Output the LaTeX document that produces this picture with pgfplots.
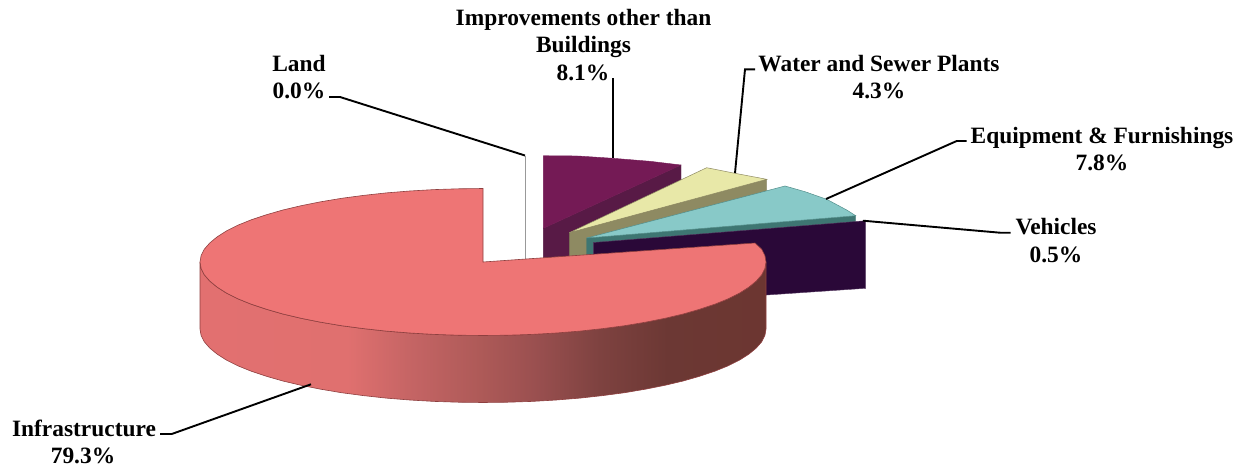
\documentclass[border=0pt]{standalone}
\usepackage{fontspec}
\setmainfont{Liberation Serif}
\usepackage{pgfplots}
\pgfplotsset{compat=1.18}

\definecolor{infraTop}{HTML}{EE7575}
\definecolor{infraEdge}{HTML}{8E3F3F}
\definecolor{improveTop}{HTML}{741A55}
\definecolor{improveSide}{HTML}{581A46}
\definecolor{waterTop}{HTML}{E8E8A8}
\definecolor{waterSide}{HTML}{8E8A62}
\definecolor{equipTop}{HTML}{88C9C8}
\definecolor{equipSide}{HTML}{3E7672}
\definecolor{vehicleSide}{HTML}{2A0838}
\definecolor{rimA}{HTML}{E27070}
\definecolor{rimB}{HTML}{E0706F}
\definecolor{rimC}{HTML}{C46464}
\definecolor{rimD}{HTML}{AE5A58}
\definecolor{rimE}{HTML}{9B5050}
\definecolor{rimF}{HTML}{7E4240}
\definecolor{rimG}{HTML}{6C3834}
\definecolor{rimH}{HTML}{6C3631}

% Rim of the large slice: light on the left, brown towards the right
\pgfdeclarehorizontalshading{rimshade}{100bp}{
  color(0bp)=(rimA);
  color(25bp)=(rimA);
  color(38bp)=(rimB);
  color(43.8bp)=(rimC);
  color(49.7bp)=(rimD);
  color(54.4bp)=(rimE);
  color(60.3bp)=(rimF);
  color(66.3bp)=(rimG);
  color(75bp)=(rimH);
  color(100bp)=(rimH)}

\newcommand{\lbl}[3]{\node[anchor=base,font=\fontsize{23.4}{26}\selectfont\bfseries,inner sep=0pt] at (axis cs:#1,#2) {#3};}

\begin{document}
\begin{tikzpicture}
\path[use as bounding box] (0,0) rectangle (1238pt,471pt);
\begin{axis}[
  at={(0,0)}, anchor=south west,
  scale only axis, width=1238pt, height=471pt,
  xmin=0, xmax=1238, ymin=0, ymax=471, y dir=reverse,
  hide axis, clip=false, no markers,
]
% Land: a sliver seen edge on
\addplot[draw=gray!80, line width=1pt] coordinates {(525.7,155.7) (525.7,259)};

% Improvements other than Buildings
\addplot[fill=improveSide, draw=improveSide, line width=0.4pt] coordinates {
  (543.3,228.3) (681,165) (681,232) (543.3,295)} --cycle;
\addplot[fill=improveTop, draw=improveTop, line width=0.4pt] coordinates {
  (543.3,155.7) (578,156) (613,158.3) (650,161.3) (681,165) (543.3,228.3)} --cycle;

% Water and Sewer Plants
\addplot[fill=waterSide, draw=waterSide!85!black, line width=0.4pt] coordinates {
  (569.3,232.7) (766.7,179.3) (766.7,246) (569.3,299)} --cycle;
\addplot[fill=waterTop, draw=waterSide, line width=0.5pt] coordinates {
  (569.3,232.7) (706.7,167.7) (735,173.3) (766.7,179.3)} --cycle;

% Equipment & Furnishings
\addplot[fill=equipSide, draw=equipSide, line width=0.4pt] coordinates {
  (586.7,238) (855.7,215.7) (855.7,283) (586.7,305)} --cycle;
\addplot[fill=equipTop, draw=equipSide!70!equipTop, line width=0.5pt] coordinates {
  (586.7,238) (785,186) (805,191.7) (826.7,199.3) (846.7,210) (855.7,215.7)} --cycle;

% Vehicles
\addplot[fill=vehicleSide, draw=vehicleSide!80!white, line width=0.4pt] coordinates {
  (593.3,242.5) (865.7,220.7) (865.7,288.3) (766.7,295) (593.3,310)} --cycle;

% Infrastructure: outer rim
\addplot[shading=rimshade, draw=infraEdge, line width=0.6pt] coordinates {
  (200,262) (201.1,268.4) (204.3,274.8) (209.7,281.0) (217.1,287.1) (226.5,293.1)
  (237.9,298.8) (251.2,304.2) (266.2,309.2) (282.9,314.0) (301.1,318.3) (320.7,322.2)
  (341.5,325.7) (363.4,328.6) (386.2,331.1) (409.8,333.0) (433.9,334.4) (458.3,335.2)
  (483,335.5) (507.7,335.2) (532.1,334.4) (556.2,333.0) (579.8,331.1) (602.6,328.6)
  (624.5,325.7) (645.3,322.2) (664.9,318.3) (683.1,314.0) (699.8,309.2) (714.8,304.2)
  (728.1,298.8) (739.5,293.1) (748.9,287.1) (756.3,281.0) (761.7,274.8) (764.9,268.4)
  (766,262)
  (766,329) (764.9,335.4) (761.7,341.8) (756.3,348.0) (748.9,354.1) (739.5,360.1)
  (728.1,365.8) (714.8,371.2) (699.8,376.2) (683.1,381.0) (664.9,385.3) (645.3,389.2)
  (624.5,392.7) (602.6,395.6) (579.8,398.1) (556.2,400.0) (532.1,401.4) (507.7,402.2)
  (483,402.5) (458.3,402.2) (433.9,401.4) (409.8,400.0) (386.2,398.1) (363.4,395.6)
  (341.5,392.7) (320.7,389.2) (301.1,385.3) (282.9,381.0) (266.2,376.2) (251.2,371.2)
  (237.9,365.8) (226.5,360.1) (217.1,354.1) (209.7,348.0) (204.3,341.8) (201.1,335.4)
  (200,329)} --cycle;

% Infrastructure: top face
\addplot[fill=infraTop, draw=infraEdge, line width=0.6pt] coordinates {
  (483,188.5) (458.3,188.8) (433.9,189.6) (409.8,191.0) (386.2,192.9) (363.4,195.4)
  (341.5,198.3) (320.7,201.8) (301.1,205.7) (282.9,210.0) (266.2,214.8) (251.2,219.8)
  (237.9,225.2) (226.5,230.9) (217.1,236.9) (209.7,243.0) (204.3,249.2) (201.1,255.6)
  (200,262) (201.1,268.4) (204.3,274.8) (209.7,281.0) (217.1,287.1) (226.5,293.1)
  (237.9,298.8) (251.2,304.2) (266.2,309.2) (282.9,314.0) (301.1,318.3) (320.7,322.2)
  (341.5,325.7) (363.4,328.6) (386.2,331.1) (409.8,333.0) (433.9,334.4) (458.3,335.2)
  (483,335.5) (507.7,335.2) (532.1,334.4) (556.2,333.0) (579.8,331.1) (602.6,328.6)
  (624.5,325.7) (645.3,322.2) (664.9,318.3) (683.1,314.0) (699.8,309.2) (714.8,304.2)
  (728.1,298.8) (739.5,293.1) (748.9,287.1) (756.3,281.0) (761.7,274.8) (764.9,268.4)
  (766,262) (764.9,255.6) (761.7,249.2) (755,243) (483,262)} --cycle;

% Leader lines
\addplot[black, line width=1.9pt] coordinates {(329,97) (340,97) (525,155.5)};
\addplot[black, line width=1.9pt] coordinates {(612.7,78) (612.7,158)};
\addplot[black, line width=1.9pt] coordinates {(755,69.3) (745,69.3) (735,173)};
\addplot[black, line width=1.9pt] coordinates {(966.7,141) (956.7,141) (826,199)};
\addplot[black, line width=1.9pt] coordinates {(1010.7,232.7) (1000,232.7) (863,220.7)};
\addplot[black, line width=1.9pt] coordinates {(160,434) (171.7,434) (311,384.3)};

% Slice labels
\lbl{583.5}{25}{Improvements other than}
\lbl{583.5}{52}{Buildings}
\lbl{583}{80}{8.1\%}
\lbl{299}{71}{Land}
\lbl{299}{98.5}{0.0\%}
\lbl{879}{71}{Water and Sewer Plants}
\lbl{879}{98}{4.3\%}
\lbl{1102}{143.5}{Equipment \& Furnishings}
\lbl{1102}{170.5}{7.8\%}
\lbl{1056}{234.5}{Vehicles}
\lbl{1056}{262}{0.5\%}
\lbl{84}{436}{Infrastructure}
\lbl{83}{463}{79.3\%}
\end{axis}
\end{tikzpicture}
\end{document}
